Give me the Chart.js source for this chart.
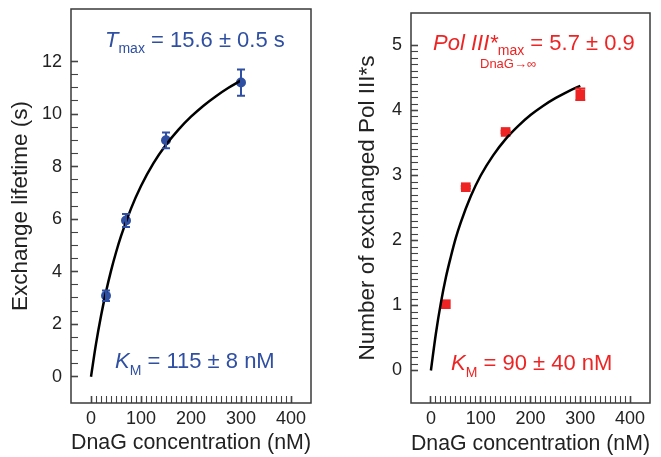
<!DOCTYPE html>
<html>
<head>
<meta charset="utf-8">
<script src="https://cdn.jsdelivr.net/npm/chart.js@4.4.1/dist/chart.umd.min.js"></script>
<style>
  body { margin: 0; background: #fff; width: 661px; height: 457px; position: relative; overflow: hidden; }
  canvas { position: absolute; top: 0; }
  #lifetimeChart { left: 0; }
  #exchangeChart { left: 330px; }
</style>
</head>
<body>
<canvas id="lifetimeChart" width="330" height="457"></canvas>
<canvas id="exchangeChart" width="331" height="457"></canvas>
<script>
/* DATA */
const concentrations = [30, 70, 150, 300];
const lifetimes = [3.08, 5.95, 9.0, 11.2];
const lifetimeErrors = [0.2, 0.25, 0.3, 0.5];

const exchanged = [1.02, 2.82, 3.67, 4.25];
const exchangedErrors = [0, 0.02, 0.02, 0.09];

const fitConcentrations = [0, 10, 20, 30, 40, 50, 60, 80, 100, 125, 150, 175, 200, 225, 250, 275, 300];
const lifetimeFit = [0, 1.25, 2.31, 3.23, 4.03, 4.73, 5.35, 6.40, 7.26, 8.13, 8.83, 9.41, 9.90, 10.32, 10.68, 11.00, 11.28];
const exchangedFit = [0, 0.57, 1.04, 1.43, 1.75, 2.04, 2.28, 2.68, 3.00, 3.31, 3.56, 3.76, 3.93, 4.07, 4.19, 4.29, 4.38];

const xTicks = [0, 100, 200, 300, 400];
const lifetimeTicks = [0, 2, 4, 6, 8, 10, 12];
const exchangedTicks = [0, 1, 2, 3, 4, 5];

const BLUE = "#2f4fa2";
const RED = "#ee2424";
const INK = "#222";
const FONT = "'Liberation Sans', Arial, sans-serif";
const TICK_LEN = 7;

/* minor tick positions between the labelled ones */
function withMinors(major, step) {
  const out = [];
  const n = Math.round((major[major.length - 1] - major[0]) / step);
  Array.from({ length: n + 1 }, (_, i) => i).forEach(i => {
    out.push(Math.round((major[0] + i * step) * 1000) / 1000);
  });
  return out;
}

function isMajor(v, major) {
  return major.some(m => Math.abs(m - v) < 1e-6);
}

/* frame */
function drawFrame(chart) {
  const ctx = chart.ctx;
  const a = chart.chartArea;
  ctx.save();
  ctx.strokeStyle = "#3a3a3a";
  ctx.lineWidth = 1.5;
  ctx.strokeRect(a.left, a.top, a.right - a.left, a.bottom - a.top);
  ctx.restore();
}

/* error bars + annotations */
function drawExtras(chart, cfg, values, errors) {
  const ctx = chart.ctx;
  const xs = chart.scales.x;
  const ys = chart.scales.y;
  ctx.save();
  ctx.strokeStyle = cfg.color;
  ctx.lineWidth = 2;
  concentrations.forEach((x, i) => {
    if (!errors[i]) return;
    const px = xs.getPixelForValue(x);
    const y1 = ys.getPixelForValue(values[i] - errors[i]);
    const y2 = ys.getPixelForValue(values[i] + errors[i]);
    ctx.beginPath();
    ctx.moveTo(px, y1); ctx.lineTo(px, y2);
    ctx.moveTo(px - cfg.cap, y1); ctx.lineTo(px + cfg.cap, y1);
    ctx.moveTo(px - cfg.cap, y2); ctx.lineTo(px + cfg.cap, y2);
    ctx.stroke();
  });
  ctx.fillStyle = cfg.color;
  ctx.textBaseline = "alphabetic";
  cfg.labels.forEach(lab => {
    let x = lab.x;
    lab.runs.forEach(r => {
      ctx.font = r.font;
      if (r.x !== undefined) {
        ctx.fillText(r.text, r.x, lab.y + (r.dy || 0));
      } else {
        ctx.fillText(r.text, x, lab.y + (r.dy || 0));
        x += ctx.measureText(r.text).width;
      }
    });
  });
  ctx.restore();
}

function makeChart(id, points, errors, fit, cfg) {
  const xAll = withMinors(xTicks, 10);
  const yAll = withMinors(cfg.ticks, cfg.minor);
  return new Chart(document.getElementById(id), {
    type: "scatter",
    data: {
      datasets: [
        {
          type: "line",
          data: fitConcentrations.map((x, i) => ({ x: x, y: fit[i] })),
          borderColor: "#000",
          borderWidth: 2.5,
          pointRadius: 0,
          cubicInterpolationMode: "monotone",
          fill: false
        },
        {
          data: concentrations.map((x, i) => ({ x: x, y: points[i] })),
          pointStyle: cfg.pointStyle,
          pointRadius: cfg.pointRadius,
          backgroundColor: cfg.color,
          borderColor: cfg.color,
          borderWidth: 0
        }
      ]
    },
    options: {
      responsive: false,
      animation: false,
      events: [],
      layout: { padding: cfg.padding },
      plugins: {
        legend: { display: false },
        tooltip: { enabled: false }
      },
      scales: {
        x: {
          type: "linear",
          min: -40, max: 440,
          grid: {
            display: true, drawOnChartArea: false, drawTicks: true,
            tickLength: -TICK_LEN, tickColor: "#444",
            tickWidth: c => isMajor(c.tick.value, xTicks) ? 1.6 : 1.1
          },
          border: { display: false },
          afterBuildTicks: s => { s.ticks = xAll.map(v => ({ value: v })); },
          afterFit: s => { s.height = 54; s.paddingLeft = 0; s.paddingRight = 0; },
          ticks: {
            color: INK, font: { family: FONT, size: 18 }, padding: 5 + TICK_LEN,
            maxRotation: 0, autoSkip: false,
            callback: v => isMajor(v, xTicks) ? String(v) : ""
          },
          title: {
            display: true, text: "DnaG concentration (nM)", color: INK,
            font: { family: FONT, size: 22.5 }, padding: { top: 0, bottom: cfg.xTitlePad }
          }
        },
        y: {
          type: "linear",
          min: cfg.yMin, max: cfg.yMax,
          grid: {
            display: true, drawOnChartArea: false, drawTicks: true,
            tickLength: -TICK_LEN, tickColor: "#444",
            tickWidth: c => isMajor(c.tick.value, cfg.ticks) ? 1.6 : 1.1
          },
          border: { display: false },
          afterBuildTicks: s => { s.ticks = yAll.map(v => ({ value: v })); },
          afterFit: s => { s.width = cfg.yWidth; s.paddingTop = 0; s.paddingBottom = 0; },
          ticks: {
            color: INK, font: { family: FONT, size: 18 }, padding: 9 + TICK_LEN,
            autoSkip: false,
            callback: v => isMajor(v, cfg.ticks) ? String(v) : ""
          },
          title: {
            display: true, text: cfg.yTitle, color: INK,
            font: { family: FONT, size: 22.5 }, padding: { top: cfg.yTitlePad, bottom: 0 }
          }
        }
      }
    },
    plugins: [{
      id: "decor",
      beforeDatasetsDraw(chart) { drawFrame(chart); },
      afterDatasetsDraw(chart) { drawExtras(chart, cfg, points, errors); }
    }]
  });
}

const big = "22px " + FONT;
const bigItalic = "italic 22px " + FONT;
const sub = "14px " + FONT;

makeChart("lifetimeChart", lifetimes, lifetimeErrors, lifetimeFit, {
  color: BLUE, pointStyle: "circle", pointRadius: 5, cap: 4,
  padding: { left: 0, right: 19, top: 9, bottom: 0 },
  yWidth: 71, yMin: -1, yMax: 14, ticks: lifetimeTicks, minor: 0.5,
  yTitle: "Exchange lifetime (s)", yTitlePad: 7, xTitlePad: 1,
  labels: [
    { x: 105, y: 47, runs: [
      { text: "T", font: bigItalic },
      { text: "max", font: sub, dy: 6 },
      { text: " = 15.6 \u00b1 0.5 s", font: big }
    ] },
    { x: 115, y: 368, runs: [
      { text: "K", font: bigItalic },
      { text: "M", font: sub, dy: 7 },
      { text: " = 115 \u00b1 8 nM", font: big }
    ] }
  ]
});

makeChart("exchangeChart", exchanged, exchangedErrors, exchangedFit, {
  color: RED, pointStyle: "rect", pointRadius: 6.8, cap: 5,
  padding: { left: 0, right: 11, top: 13, bottom: 0 },
  yWidth: 81, yMin: -0.5, yMax: 5.5, ticks: exchangedTicks, minor: 0.1,
  yTitle: "Number of exchanged Pol III*s", yTitlePad: 24, xTitlePad: 0,
  labels: [
    { x: 103, y: 50, runs: [
      { text: "Pol III*", font: bigItalic },
      { text: "max", font: sub, dy: 4.5 },
      { text: " = 5.7 \u00b1 0.9", font: big },
      { text: "DnaG\u2192\u221e", font: "13px " + FONT, x: 150, dy: 18 }
    ] },
    { x: 121, y: 370, runs: [
      { text: "K", font: bigItalic },
      { text: "M", font: sub, dy: 7 },
      { text: " = 90 \u00b1 40 nM", font: big }
    ] }
  ]
});
</script>
</body>
</html>
